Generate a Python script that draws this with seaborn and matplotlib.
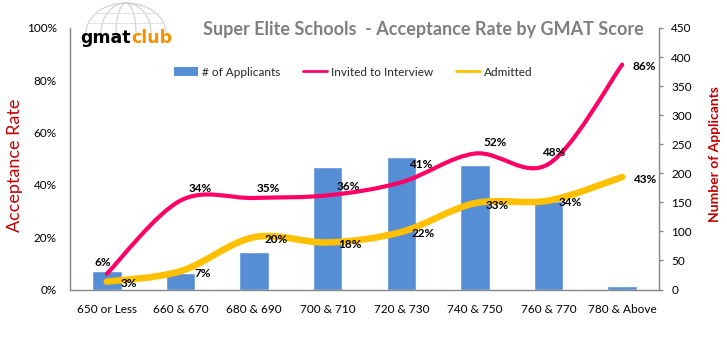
import numpy as np
import matplotlib
matplotlib.use("Agg")
import matplotlib.pyplot as plt
from matplotlib.path import Path
from matplotlib.patches import PathPatch, Arc, Rectangle
from matplotlib.lines import Line2D
from matplotlib.ticker import FuncFormatter, MultipleLocator
import seaborn as sns

# data
scores = ["650 or Less", "660 & 670", "680 & 690", "700 & 710",
          "720 & 730", "740 & 750", "760 & 770", "780 & Above"]
applicants = [32, 29, 65, 211, 228, 214, 152, 6]
invited = [6, 34, 35, 36, 41, 52, 48, 86]
admitted = [3, 7, 20, 18, 22, 33, 34, 43]

BLUE = "#558ED5"
PINK = "#FF0066"
GOLD = "#FFC000"
DARKRED = "#C00000"
GRAY = "#868686"

sns.set_theme(style="white")
plt.rcParams["font.family"] = ["Lato", "DejaVu Sans"]

W, H = 727, 350
fig = plt.figure(figsize=(W / 100, H / 100), dpi=100)
ax = fig.add_axes([70 / W, 1 - 289.5 / H, 589 / W, 261.5 / H])
ax2 = ax.twinx()

# bars on the right axis
sns.barplot(x=scores, y=applicants, ax=ax2, color=BLUE, saturation=1, width=0.4)
ax2.set_ylim(0, 450)
ax2.yaxis.set_major_locator(MultipleLocator(50))
ax2.set_ylabel("")
ax2.tick_params(axis="y", length=3, width=1, color=GRAY, pad=5.8,
                labelsize=8.5, labelcolor="black", direction="out")


def smooth_path(ys):
    # excel-like smoothed line: cubic bezier through every point
    pts = np.column_stack([np.arange(len(ys)), ys]).astype(float)
    ext = np.vstack([pts[0], pts, pts[-1]])
    verts = [pts[0]]
    codes = [Path.MOVETO]
    for i in range(len(pts) - 1):
        p0, p1, p2, p3 = ext[i], ext[i + 1], ext[i + 2], ext[i + 3]
        verts += [p1 + (p2 - p0) / 6, p2 - (p3 - p1) / 6, p2]
        codes += [Path.CURVE4] * 3
    return Path(verts, codes)


ax.add_patch(PathPatch(smooth_path(invited), facecolor="none", edgecolor=PINK,
                       lw=3, capstyle="round", joinstyle="round", zorder=3))
ax.add_patch(PathPatch(smooth_path(admitted), facecolor="none", edgecolor=GOLD,
                       lw=4.75, capstyle="round", joinstyle="round", zorder=3))

ax.set_xlim(-0.5, len(scores) - 0.5)
ax.set_ylim(0, 100)
ax.yaxis.set_major_locator(MultipleLocator(20))
ax.yaxis.set_major_formatter(FuncFormatter(lambda v, p: f"{v:.0f}%"))
ax.set_xticks(range(len(scores)))
ax.set_xticklabels(scores)
ax.tick_params(axis="y", length=0, pad=9.4, labelsize=8.5, labelcolor="black")
ax.tick_params(axis="x", length=0, pad=10.5, labelsize=8.5, labelcolor="black")

ax.set_zorder(ax2.get_zorder() + 1)
ax.patch.set_visible(False)
for s in ["top", "right"]:
    ax.spines[s].set_visible(False)
for s in ["top", "left", "bottom"]:
    ax2.spines[s].set_visible(False)
for sp in [ax.spines["left"], ax.spines["bottom"], ax2.spines["right"]]:
    sp.set_color(GRAY)
    sp.set_linewidth(1)

# data labels (offsets in px: right, down)
pink_offsets = [(-4, -11), (20, -12), (14, -9), (21, -9), (19, -18), (20, -11), (5, -11), (22, 2)]
for i, v in enumerate(invited):
    dx, dy = pink_offsets[i]
    ax.annotate(f"{v}%", (i, v), xytext=(dx * 0.72, -dy * 0.72), textcoords="offset points",
                ha="center", va="center", fontsize=8.5, fontweight="bold", color="black", zorder=5)
for i, v in enumerate(admitted):
    ax.annotate(f"{v}%", (i, v), xytext=(22 * 0.72, -2 * 0.72), textcoords="offset points",
                ha="center", va="center", fontsize=8.5, fontweight="bold", color="black", zorder=5)

# axis titles
fig.text(15 / W, 1 - 165 / H, "Acceptance Rate", rotation=90, ha="center", va="center",
         fontsize=13, color=DARKRED)
fig.text(715 / W, 1 - 154 / H, "Number of Applicants", rotation=90, ha="center", va="center",
         fontsize=10, fontweight="bold", color=DARKRED)

# title
fig.text(423 / W, 1 - 29 / H, "Super Elite Schools  - Acceptance Rate by GMAT Score",
         ha="center", va="center", fontsize=13, fontweight="bold", color="#7F7F7F")

# logo
logo = fig.add_axes([80 / W, 1 - 50 / H, 90 / W, 48 / H])
logo.set_xlim(0, 90)
logo.set_ylim(0, 48)
logo.axis("off")
for w in [80, 50, 20]:
    logo.add_patch(Arc((46, 17), w, 60, theta1=0, theta2=180, color="#CFCFCF", lw=0.8))
logo.plot([8, 84], [27, 27], color="#DDDDDD", lw=0.6)
logo.plot([14, 78], [37, 37], color="#DDDDDD", lw=0.6)
fig.text(131 / W, 1 - 38 / H, "gmat", ha="right", va="center", fontsize=12.5,
         fontweight="bold", family="DejaVu Sans", color="black")
fig.text(131 / W, 1 - 38 / H, "club", ha="left", va="center", fontsize=12.5,
         fontweight="bold", family="DejaVu Sans", color="#F39200")

# legend
handles = [Rectangle((0, 0), 1, 1, facecolor=BLUE, edgecolor="none"),
           Line2D([], [], color=PINK, lw=2),
           Line2D([], [], color=GOLD, lw=2)]
fig.legend(handles, ["# of Applicants", "Invited to Interview", "Admitted"],
           loc="center", bbox_to_anchor=(353 / W, 1 - 72 / H), ncol=3, frameon=False,
           fontsize=8.5, handlelength=2.1, handleheight=0.7, handletextpad=0.3,
           columnspacing=1.9)

fig.savefig("out.png", dpi=100)
